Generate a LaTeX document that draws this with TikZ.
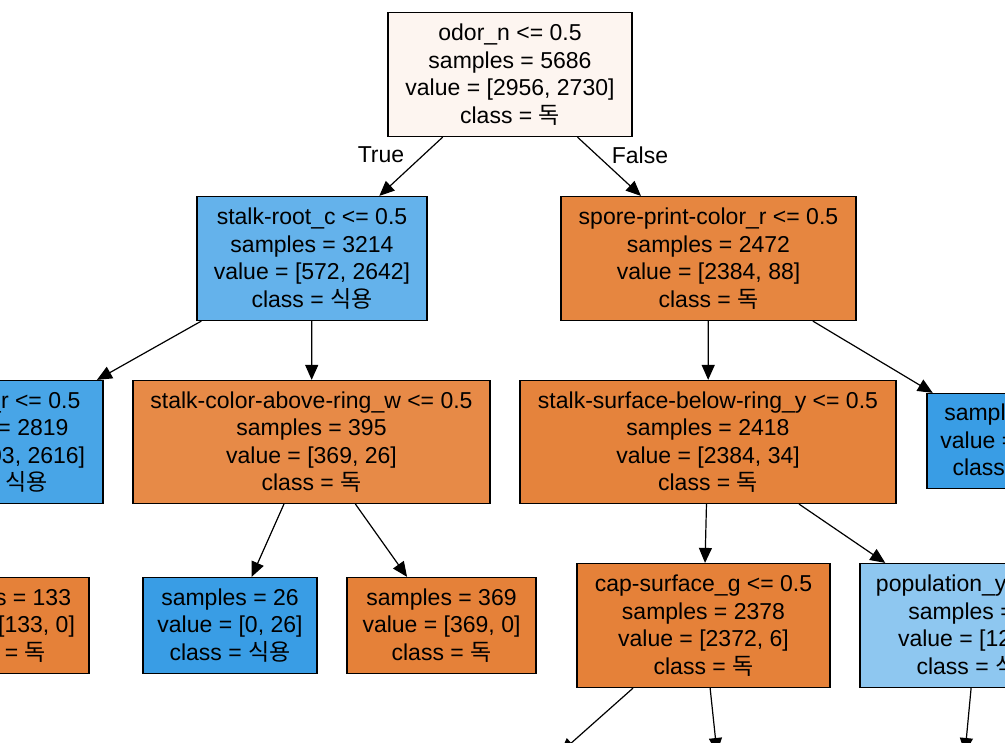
\documentclass[tikz,border=0pt]{standalone}
\usepackage{fontspec}
\setmainfont{Liberation Sans}
\newfontfamily\krfont{Noto Sans CJK KR}
\usetikzlibrary{arrows.meta}
\definecolor{rootC}{HTML}{FDF5F0}
\definecolor{mixBlueC}{HTML}{64B2EB}
\definecolor{mixOrangeC}{HTML}{E68640}
\definecolor{llC}{HTML}{48A5E7}
\definecolor{lrC}{HTML}{E78A47}
\definecolor{rlC}{HTML}{E5833C}
\definecolor{pureOrangeC}{HTML}{E58139}
\definecolor{pureBlueC}{HTML}{399DE5}
\definecolor{paleBlueC}{HTML}{8EC7F0}
\newcommand{\dok}{{\krfont 독}}
\newcommand{\sik}{{\krfont 식용}}

\begin{document}
\begin{tikzpicture}[x=1pt,y=-1pt,
  tnode/.style={draw=black,line width=1.2pt,align=center,inner sep=0pt,
    font=\fontsize{23}{27.5}\selectfont},
  tarrow/.style={line width=1.2pt,-{Triangle[length=15pt,width=13pt]}},
  elabel/.style={font=\fontsize{23}{27.5}\selectfont}]
  \useasboundingbox (0,0) rectangle (1005,743);
  \fill[white] (0,0) rectangle (1005,743);
  \clip (0,0) rectangle (1005,743);

  % depth 0
  \node[tnode,fill=rootC,minimum width=244pt,minimum height=124pt] (root) at (510,74.5)
    {odor\_n <= 0.5\\samples = 5686\\value = [2956, 2730]\\class = \dok};

  % depth 1
  \node[tnode,fill=mixBlueC,minimum width=230pt,minimum height=124pt] (sroot) at (312,258.5)
    {stalk-root\_c <= 0.5\\samples = 3214\\value = [572, 2642]\\class = \sik};
  \node[tnode,fill=mixOrangeC,minimum width=295pt,minimum height=124pt] (spore) at (708.5,258.5)
    {spore-print-color\_r <= 0.5\\samples = 2472\\value = [2384, 88]\\class = \dok};

  % depth 2
  \node[tnode,fill=llC,minimum width=232pt,minimum height=123pt] (capcol) at (-13,442)
    {cap-color\_r <= 0.5\\samples = 2819\\value = [203, 2616]\\class = \sik};
  \node[tnode,fill=lrC,minimum width=357pt,minimum height=123pt] (scolor) at (311.5,442)
    {stalk-color-above-ring\_w <= 0.5\\samples = 395\\value = [369, 26]\\class = \dok};
  \node[tnode,fill=rlC,minimum width=376pt,minimum height=123pt] (ssurf) at (708,442)
    {stalk-surface-below-ring\_y <= 0.5\\samples = 2418\\value = [2384, 34]\\class = \dok};
  \node[tnode,fill=pureBlueC,minimum width=172pt,minimum height=95pt] (leafR) at (1013,441)
    {samples = 54\\value = [0, 54]\\class = \sik};

  % depth 3
  \node[tnode,fill=pureOrangeC,minimum width=186pt,minimum height=96pt] (leafA) at (-4,625.5)
    {samples = 133\\value = [133, 0]\\class = \dok};
  \node[tnode,fill=pureBlueC,minimum width=174pt,minimum height=96pt] (leafB) at (230,625.5)
    {samples = 26\\value = [0, 26]\\class = \sik};
  \node[tnode,fill=pureOrangeC,minimum width=189pt,minimum height=96pt] (leafC) at (441.5,625.5)
    {samples = 369\\value = [369, 0]\\class = \dok};
  \node[tnode,fill=pureOrangeC,minimum width=253pt,minimum height=124pt] (capsurf) at (703.5,625.5)
    {cap-surface\_g <= 0.5\\samples = 2378\\value = [2372, 6]\\class = \dok};
  \node[tnode,fill=paleBlueC,minimum width=234pt,minimum height=124pt] (popul) at (977,625.5)
    {population\_y <= 0.5\\samples = 40\\value = [12, 28]\\class = \sik};

  % children below the frame
  \coordinate (capsurfL) at (560,753);
  \coordinate (capsurfR) at (717,753);
  \coordinate (populL) at (965,753);

  % edges
  \draw[tarrow] (root) -- (sroot);
  \draw[tarrow] (root) -- (spore);
  \draw[tarrow] (sroot) -- (capcol);
  \draw[tarrow] (sroot) -- (scolor);
  \draw[tarrow] (spore) -- (ssurf);
  \draw[tarrow] (spore) -- (leafR);
  \draw[tarrow] (capcol) -- (leafA);
  \draw[tarrow] (scolor) -- (leafB);
  \draw[tarrow] (scolor) -- (leafC);
  \draw[tarrow] (ssurf) -- (capsurf);
  \draw[tarrow] (ssurf) -- (popul);
  \draw[tarrow] (capsurf) -- (capsurfL);
  \draw[tarrow] (capsurf) -- (capsurfR);
  \draw[tarrow] (popul) -- (populL);

  % labels
  \node[elabel] (tlab) at (381,155) {True};
  \node[elabel] (flab) at (640,155) {False};
\end{tikzpicture}
\end{document}
